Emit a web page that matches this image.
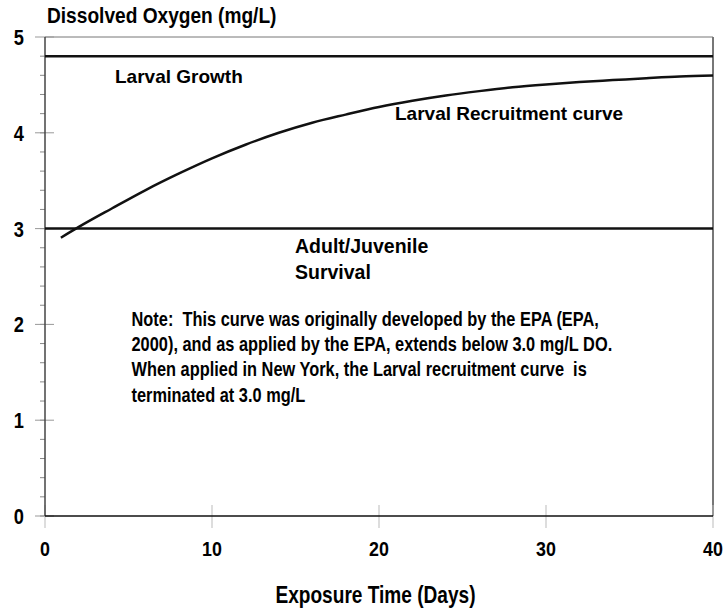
<!DOCTYPE html>
<html>
<head>
<meta charset="utf-8">
<script src="https://cdn.jsdelivr.net/npm/d3@7"></script>
<style>
  body { margin: 0; background: #fff; }
  svg { display: block; }
  text {
    fill: #000;
    font-weight: bold;
    font-family: "Liberation Sans", Arial, sans-serif;
    white-space: pre;
  }
</style>
</head>
<body>
<div id="chart"></div>
<script>
// Chart data
const days = [0.95, 2, 4, 6, 8, 10, 12, 14, 16, 18, 20, 22, 24, 26, 28, 30, 32, 34, 36, 38, 40];
const oxygen = [2.905, 3.015, 3.21, 3.4, 3.573, 3.733, 3.875, 4.0, 4.105, 4.19, 4.27, 4.335, 4.39, 4.435, 4.475, 4.505, 4.53, 4.55, 4.57, 4.588, 4.598];
const thresholds = [4.8, 3.0];
const xTicks = [0, 10, 20, 30, 40];
const yTicks = [0, 1, 2, 3, 4, 5];
const yMinorTicks = d3.range(0, 50, 2).map((d) => d / 10);

const noteLines = [
  "Note:  This curve was originally developed by the EPA (EPA,",
  "2000), and as applied by the EPA, extends below 3.0 mg/L DO.",
  "When applied in New York, the Larval recruitment curve  is",
  "terminated at 3.0 mg/L",
];

const width = 725;
const height = 611;
const margin = { top: 37, right: 12, bottom: 95, left: 45 };

const svg = d3
  .select("#chart")
  .append("svg")
  .attr("width", width)
  .attr("height", height);

const xScale = d3
  .scaleLinear()
  .domain([0, 40])
  .range([margin.left, width - margin.right]);

const yScale = d3
  .scaleLinear()
  .domain([0, 5])
  .range([height - margin.bottom, margin.top]);

const x0 = xScale(0), x1 = xScale(40);
const y0 = yScale(0), y1 = yScale(5);

// Frame: top and right edges
svg.append("line")
  .attr("x1", x0).attr("x2", x1).attr("y1", y1).attr("y2", y1)
  .attr("stroke", "#777").attr("stroke-width", 1);
svg.append("line")
  .attr("x1", x1).attr("x2", x1).attr("y1", y1).attr("y2", y0)
  .attr("stroke", "#777").attr("stroke-width", 2);

// Y ticks
svg.append("g")
  .selectAll("line")
  .data(yMinorTicks)
  .join("line")
  .attr("x1", x0 - 5).attr("x2", x0)
  .attr("y1", (d) => yScale(d)).attr("y2", (d) => yScale(d))
  .attr("stroke", "#888");

svg.append("g")
  .selectAll("line")
  .data(yTicks)
  .join("line")
  .attr("x1", x0 - 10).attr("x2", x0 + 9)
  .attr("y1", (d) => yScale(d)).attr("y2", (d) => yScale(d))
  .attr("stroke", "#999");

// X ticks
svg.append("g")
  .selectAll("line")
  .data(xTicks)
  .join("line")
  .attr("x1", (d) => xScale(d)).attr("x2", (d) => xScale(d))
  .attr("y1", y0 - 11).attr("y2", y0 + 12)
  .attr("stroke", "#bbb");

// Axis lines
svg.append("line")
  .attr("x1", x0).attr("x2", x0).attr("y1", y1).attr("y2", y0)
  .attr("stroke", "#444").attr("stroke-width", 1.5);
svg.append("line")
  .attr("x1", x0).attr("x2", x1).attr("y1", y0).attr("y2", y0)
  .attr("stroke", "#111").attr("stroke-width", 1.5);

// Tick labels (narrowed glyphs like the original)
svg.append("g")
  .selectAll("text")
  .data(yTicks)
  .join("text")
  .attr("transform", (d) => `translate(24,${yScale(d)}) scale(0.83,1)`)
  .attr("dy", "0.36em")
  .attr("text-anchor", "end")
  .attr("font-size", 22)
  .text((d) => d);

svg.append("g")
  .selectAll("text")
  .data(xTicks)
  .join("text")
  .attr("transform", (d) => `translate(${xScale(d)},556) scale(0.85,1)`)
  .attr("text-anchor", "middle")
  .attr("font-size", 21)
  .text((d) => d);

// Threshold lines
svg.append("g")
  .selectAll("line")
  .data(thresholds)
  .join("line")
  .attr("x1", x0).attr("x2", x1)
  .attr("y1", (d) => yScale(d)).attr("y2", (d) => yScale(d))
  .attr("stroke", "#111").attr("stroke-width", 2.5);

// Recruitment curve
const line = d3
  .line()
  .x((d, i) => xScale(days[i]))
  .y((d) => yScale(d))
  .curve(d3.curveMonotoneX);

svg.append("path")
  .datum(oxygen)
  .attr("d", line)
  .attr("fill", "none")
  .attr("stroke", "#111")
  .attr("stroke-width", 2.5);

// Text helper
function addText(str, x, y, size, sx = 1, anchor = "start") {
  svg.append("text")
    .attr("transform", `translate(${x},${y}) scale(${sx},1)`)
    .attr("text-anchor", anchor)
    .attr("font-size", size)
    .text(str);
}

// Axis titles
addText("Dissolved Oxygen (mg/L)", 47, 23, 22.5, 0.85);
addText("Exposure Time (Days)", 375.5, 603, 23, 0.83, "middle");

// Annotations
addText("Larval Growth", 115, 83, 19);
addText("Larval Recruitment curve", 395, 120, 19);
addText("Adult/Juvenile", 295, 253, 19.5);
addText("Survival", 295, 279, 19.5);

noteLines.forEach((str, i) => addText(str, 131.5, 326 + i * 25.2, 19.5, 0.84));
</script>
</body>
</html>
